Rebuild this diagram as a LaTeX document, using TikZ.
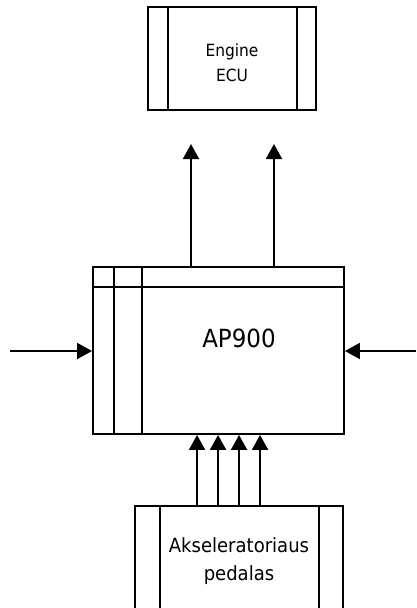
\documentclass[tikz,border=0pt]{standalone}
\usepackage{fontspec}
\setmainfont{DejaVu Sans}[FakeStretch=0.92]
\usetikzlibrary{arrows.meta,positioning,calc}

\begin{document}
\begin{tikzpicture}[
  x=1pt, y=-1pt,
  box/.style={draw, line width=1.9pt, inner sep=0pt, align=center},
  sep/.style={line width=1.9pt},
  arr/.style={-{Triangle[length=15pt, width=16pt]}, line width=1.9pt}
]
\clip (0,0) rectangle (416,608);
\node[box, minimum width=168pt, minimum height=103pt] (ecu) at (232,58.5) {};
\node[align=center, font=\fontsize{16.8}{25}\selectfont] (ecutxt) at (232,63) {Engine\\ECU};
\node[box, minimum width=251pt, minimum height=167pt] (ap) at (218.5,350.5) {};
\node[box, minimum width=208pt, minimum height=110pt,
      font=\fontsize{19.6}{28}\selectfont] (pedal) at (239,561) {Akseleratoriaus\\pedalas};
\node[font=\fontsize{25}{28}\selectfont] (aplbl) at (239,338) {AP900};
% inner lines
\draw[sep] ($(ecu.north west)+(21,0)$) -- ($(ecu.south west)+(21,0)$);
\draw[sep] ($(ecu.north east)+(-20,0)$) -- ($(ecu.south east)+(-20,0)$);
\draw[sep] ($(ap.north west)+(22,0)$) -- ($(ap.south west)+(22,0)$);
\draw[sep] ($(ap.north west)+(50,0)$) -- ($(ap.south west)+(50,0)$);
\draw[sep] ($(ap.north west)+(0,21)$) -- ($(ap.north east)+(0,21)$);
\draw[sep] ($(pedal.north west)+(26,0)$) -- ($(pedal.south west)+(26,0)$);
\draw[sep] ($(pedal.north east)+(-25,0)$) -- ($(pedal.south east)+(-25,0)$);
% outputs to the ECU
\coordinate (out1) at (191,144);
\coordinate (out2) at (274,144);
\draw[arr] (out1 |- ap.north) -- (out1);
\draw[arr] (out2 |- ap.north) -- (out2);
% side inputs
\coordinate (inL) at (10,351);
\coordinate (inR) at (416,351);
\draw[arr] (inL) -- (inL -| ap.west);
\draw[arr] (inR) -- (inR -| ap.east);
% pedal signals
\foreach \d [count=\i] in {63,84,105,126} {
  \coordinate (p\i) at ($(pedal.north west)+(\d,0)$);
  \draw[arr] (p\i) -- (p\i |- ap.south);
}
\end{tikzpicture}
\end{document}
